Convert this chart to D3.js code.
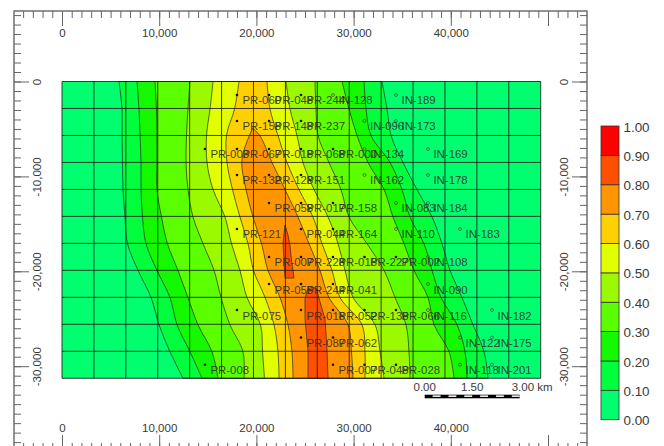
<!DOCTYPE html>
<html lang="en">
<head>
<meta charset="utf-8">
<title>Contour map</title>
<script src="https://cdnjs.cloudflare.com/ajax/libs/d3/7.8.5/d3.min.js"></script>
<style>
  html, body { margin: 0; padding: 0; background: #fff; }
  svg { display: block; font-family: "Liberation Sans", Arial, sans-serif; }
  .tick text { fill: #3a3a3a; }
</style>
</head>
<body>
<script>
// depth of each contour pick (m)
var depths = [0, -2900, -5690, -8540, -11380, -14280, -17090, -19900, -22760, -25630, -28480, -31270];

// contour position (easting, m) at each depth, west and east flank
var c01W = [5860, 6170, 6170, 6220, 6280, 6480, 6740, 7820, 9160, 9980, 11110, 12450];
var c02W = [7720, 7920, 8030, 8130, 8130, 8280, 8640, 9770, 11110, 11830, 13170, 14400];
var c03W = [9570, 9720, 9770, 9770, 9770, 10240, 10850, 11930, 12960, 13990, 15430, 16050];
var c04W = [13170, 12960, 12810, 12760, 12960, 13480, 14510, 15640, 16360, 17280, 18620, 18720];
var c05W = [15540, 15230, 14870, 14920, 15540, 16770, 17440, 18310, 19030, 20420, 20630, 20830];
var c06W = [18210, 17750, 16920, 16980, 17540, 18310, 19140, 19700, 20890, 21810, 22220, 22330];

var c06E = [21090, 21400, 22220, 23150, 24380, 25820, 26750, 27780, 28600, 30860, 31170, 31170];
var c05E = [23050, 23460, 24180, 24790, 25930, 27370, 28400, 29120, 29940, 32200, 32720, 33130];
var c04E = [26030, 26130, 26340, 27470, 28700, 29530, 31380, 33130, 34260, 35390, 35700, 35800];
var c03E = [28810, 29530, 30350, 31480, 33130, 34050, 35190, 36210, 37650, 38270, 39820, 40330];
var c02E = [31070, 31280, 31790, 33750, 34980, 35800, 37240, 38070, 38990, 40640, 41460, 41670];
var c01E = [32920, 33440, 33850, 35080, 36520, 38070, 39090, 39920, 41150, 42280, 43420, 43830];

// 0.70 contour closes at the north end, 0.80 is two separate closures
var c07WestX = [19620, 18830, 18490, 18930, 19650, 20530, 21190, 22430, 23250, 23660, 23770];
var c07WestY = [-4900, -6900, -8540, -11380, -14280, -17090, -19900, -22760, -25630, -28480, -31270];
var c07EastX = [29940, 29780, 29420, 27470, 26540, 25410, 24280, 22940, 21610, 20370, 19620];
var c07EastY = [-31270, -28480, -25630, -22760, -19900, -17090, -14280, -11380, -8540, -5740, -4900];
var c08aX = [22940, 22740, 22940, 23870, 23560, 23460, 23250];
var c08aY = [-15120, -17020, -20710, -20710, -18390, -17330, -16180];
var c08bX = [25310, 25720, 26240, 26340, 27060, 27260, 27370, 25310, 25310, 25000, 25000];
var c08bY = [-21870, -21650, -21870, -22500, -25030, -28190, -31270, -31270, -28400, -25030, -22810];

var bandColors = ["#00ff6e", "#00ff3c", "#14f800", "#5cff00", "#9cfa00", "#e2ff00", "#ffd000", "#ff9500", "#ff5000", "#ff0000"];
var legendTicks = [0, 0.1, 0.2, 0.3, 0.4, 0.5, 0.6, 0.7, 0.8, 0.9, 1];

// wells
var wellNames = [
  "PR-060", "PR-048", "PR-244", "IN-128", "IN-189",
  "PR-158", "PR-148", "PR-237", "IN-096", "IN-173",
  "PR-003", "PR-067", "PR-018", "PR-068", "PR-000", "IN-134", "IN-169",
  "PR-132", "PR-128", "PR-151", "IN-162", "IN-178",
  "PR-058", "PR-017", "PR-158", "IN-083", "IN-184",
  "PR-121", "PR-044", "PR-164", "IN-110", "IN-183",
  "PR-007", "PR-228", "PR-018", "PR-227", "PR-002", "IN-108",
  "PR-055", "PR-244", "PR-041", "IN-090",
  "PR-075", "PR-018", "PR-052", "PR-138", "PR-066", "IN-116", "IN-182",
  "PR-087", "PR-062", "IN-122", "IN-175",
  "PR-008", "PR-007", "PR-048", "PR-028", "IN-118", "IN-201"
];
var wellX = [
  18000, 21300, 24590, 27880, 34360,
  18000, 21300, 24590, 31120, 34360,
  14710, 18000, 21300, 24590, 27880, 31120, 37650,
  18000, 21300, 24590, 31120, 37650,
  21300, 24590, 27880, 34360, 37650,
  18000, 24590, 27880, 34360, 40950,
  21300, 24590, 27880, 31120, 34360, 37650,
  21300, 24590, 27880, 37650,
  18000, 24590, 27880, 31120, 34360, 37650, 44240,
  24590, 27880, 40950, 44240,
  14710, 27880, 31120, 34360, 40950, 44240
];
var wellY = [
  -1420, -1420, -1420, -1420, -1420,
  -4160, -4160, -4160, -4160, -4160,
  -7110, -7110, -7110, -7110, -7110, -7110, -7110,
  -9850, -9850, -9850, -9850, -9850,
  -12800, -12800, -12800, -12800, -12800,
  -15540, -15540, -15540, -15540, -15540,
  -18490, -18490, -18490, -18490, -18490, -18490,
  -21340, -21340, -21340, -21340,
  -24080, -24080, -24080, -24080, -24080, -24080, -24080,
  -26980, -26980, -26980, -26980,
  -29840, -29840, -29840, -29840, -29840, -29840
];

var xLabels = [0, 10000, 20000, 30000, 40000];
var xMajor = [0, 10000, 20000, 30000, 40000, 50000];
var yMajor = [0, -10000, -20000, -30000];
var barLabels = ["0.00", "1.50", "3.00 km"];
var barKm = [0, 1.5, 3];

var w = 664, h = 446;
var frameL = 14, frameT = 11, frameR = 587, frameB = 450;
var mapRight = 49250, mapBottom = -31270;

var x = d3.scaleLinear().domain([0, 50000]).range([62, 548]);
var y = d3.scaleLinear().domain([0, -30000]).range([81.5, 366.2]);

var svg = d3.select("body").append("svg").attr("width", w).attr("height", h);

// outer frame with inward ticks
svg.append("rect")
  .attr("x", frameL).attr("y", frameT)
  .attr("width", frameR - frameL).attr("height", frameB - frameT)
  .attr("fill", "none").attr("stroke", "#666").attr("stroke-width", 1.4);

var xMinor = d3.range(-4000, 54000, 1000);
var yMinor = d3.range(7000, -40000, -1000);
var fmt = d3.format(",");

function drawAxis(axisFn, scale, tx, ty, minor, major, labels, rotateAt) {
  var small = svg.append("g").attr("transform", "translate(" + tx + "," + ty + ")")
    .call(axisFn(scale).tickValues(minor).tickSize(7).tickFormat(""));
  small.select(".domain").remove();
  small.selectAll("line").attr("stroke", "#666");

  var big = svg.append("g").attr("transform", "translate(" + tx + "," + ty + ")")
    .call(axisFn(scale).tickValues(major).tickSize(15).tickPadding(3)
      .tickFormat(function(d) { return labels.indexOf(d) >= 0 ? fmt(d).replace("\u2212", "-") : ""; }));
  big.select(".domain").remove();
  big.selectAll("line").attr("stroke", "#666");
  big.selectAll("text").attr("font-size", 11.5).attr("font-family", "Liberation Sans");
  if (rotateAt) {
    big.selectAll("text")
      .attr("x", rotateAt).attr("y", 0).attr("dy", "0.35em")
      .attr("text-anchor", "middle")
      .attr("transform", "rotate(-90 " + rotateAt + " 0)");
  }
}

drawAxis(d3.axisBottom, x, 0, frameT, xMinor, xMajor, xLabels);
drawAxis(d3.axisTop, x, 0, frameB, xMinor, xMajor, xLabels);
drawAxis(d3.axisRight, y, frameL, 0, yMinor, yMajor, yMajor, 23);
drawAxis(d3.axisLeft, y, frameR, 0, yMinor, yMajor, yMajor, -23);

// filled contours, lowest band first
var smooth = d3.line().x(function(d) { return x(d[0]); }).y(function(d) { return y(d[1]); })
  .curve(d3.curveCatmullRom.alpha(0.5));
var straight = d3.line().x(function(d) { return x(d[0]); }).y(function(d) { return y(d[1]); });

function atDepths(vals) { return vals.map(function(v, i) { return [v, depths[i]]; }); }
function zipped(xs, ys) { return xs.map(function(v, i) { return [v, ys[i]]; }); }

// each flank is smoothed on its own so the corners on the map edge stay sharp
function closed(west, east) {
  return smooth(west) + "L" + smooth(east).slice(1) + "Z";
}
function flank(westVals, eastVals) {
  return closed(atDepths(westVals), atDepths(eastVals).reverse());
}

var polys = [
  { d: flank(c01W, c01E), fill: bandColors[1] },
  { d: flank(c02W, c02E), fill: bandColors[2] },
  { d: flank(c03W, c03E), fill: bandColors[3] },
  { d: flank(c04W, c04E), fill: bandColors[4] },
  { d: flank(c05W, c05E), fill: bandColors[5] },
  { d: flank(c06W, c06E), fill: bandColors[6] },
  { d: closed(zipped(c07WestX, c07WestY), zipped(c07EastX, c07EastY)), fill: bandColors[7] },
  { d: straight(zipped(c08aX, c08aY)) + "Z", fill: bandColors[8] },
  { d: straight(zipped(c08bX, c08bY)) + "Z", fill: bandColors[8] }
];

svg.append("rect")
  .attr("x", x(0)).attr("y", y(0))
  .attr("width", x(mapRight) - x(0)).attr("height", y(mapBottom) - y(0))
  .attr("fill", bandColors[0]);

svg.append("g").selectAll("path")
  .data(polys)
  .enter()
  .append("path")
  .attr("d", function(d) { return d.d; })
  .attr("fill", function(d) { return d.fill; })
  .attr("stroke", "#2a2a2a")
  .attr("stroke-opacity", 0.8)
  .attr("stroke-width", 0.9);

// map grid
var gridX = d3.range(0, 16).map(function(i) { return i * mapRight / 15; });
var gridY = d3.range(0, 12).map(function(i) { return i * mapBottom / 11; });
var grid = svg.append("g").attr("stroke", "#1c1c1c").attr("stroke-width", 1).attr("stroke-opacity", 0.85);
grid.selectAll(".v").data(gridX).enter().append("line")
  .attr("class", "v")
  .attr("x1", x).attr("x2", x)
  .attr("y1", y(0)).attr("y2", y(mapBottom));
grid.selectAll(".h").data(gridY).enter().append("line")
  .attr("class", "h")
  .attr("y1", y).attr("y2", y)
  .attr("x1", x(0)).attr("x2", x(mapRight));

// wells
var wells = svg.append("g");
wells.selectAll("circle")
  .data(wellNames)
  .enter()
  .append("circle")
  .attr("cx", function(d, i) { return x(wellX[i]); })
  .attr("cy", function(d, i) { return y(wellY[i]); })
  .attr("r", function(d) { return d.slice(0, 2) == "IN" ? 1.5 : 1.3; })
  .attr("fill", function(d) { return d.slice(0, 2) == "IN" ? "none" : "#111"; })
  .attr("stroke", function(d) { return d.slice(0, 2) == "IN" ? "#444" : "none"; })
  .attr("stroke-width", 0.7);

wells.selectAll("text")
  .data(wellNames)
  .enter()
  .append("text")
  .text(function(d) { return d; })
  .attr("x", function(d, i) { return x(wellX[i]) + 5.5; })
  .attr("y", function(d, i) { return y(wellY[i]) + 9.5; })
  .attr("font-size", 11.4)
  .attr("fill", "#2e2e2e")
  .attr("fill-opacity", 0.9);

// legend
var legend = d3.scaleLinear().domain([0, 1]).range([419.7, 126]);
svg.append("g").selectAll("rect")
  .data(bandColors)
  .enter()
  .append("rect")
  .attr("x", 601).attr("width", 18)
  .attr("y", function(d, i) { return legend(legendTicks[i + 1]); })
  .attr("height", function(d, i) { return legend(legendTicks[i]) - legend(legendTicks[i + 1]); })
  .attr("fill", function(d) { return d; })
  .attr("stroke", "#333")
  .attr("stroke-width", 0.8);

var legendAxis = svg.append("g").attr("transform", "translate(619,0)")
  .call(d3.axisRight(legend).tickValues(legendTicks).tickSize(0).tickPadding(4.5).tickFormat(d3.format(".2f")));
legendAxis.select(".domain").remove();
legendAxis.selectAll("text").attr("font-size", 13.4).attr("font-family", "Liberation Sans").attr("dy", "0.38em");

// scale bar
var bar = d3.scaleLinear().domain([0, 3]).range([424.7, 519.7]);
var barCells = d3.range(0, 3, 0.25);
svg.append("rect")
  .attr("x", bar(0)).attr("y", 394.7)
  .attr("width", bar(3) - bar(0)).attr("height", 3.6)
  .attr("fill", "#000");
svg.append("g").selectAll("rect")
  .data(barCells.filter(function(d, i) { return i % 2 == 1; }))
  .enter()
  .append("rect")
  .attr("x", bar)
  .attr("y", 395.4)
  .attr("width", bar(0.25) - bar(0))
  .attr("height", 1.5)
  .attr("fill", "#fff");
svg.append("g").selectAll("text")
  .data(barLabels)
  .enter()
  .append("text")
  .text(function(d) { return d; })
  .attr("x", function(d, i) { return bar(barKm[i]) - (i == 2 ? 8 : 0); })
  .attr("y", 390.5)
  .attr("text-anchor", function(d, i) { return i == 2 ? "start" : "middle"; })
  .attr("font-size", 11.5)
  .attr("fill", "#3a3a3a");
</script>
</body>
</html>
